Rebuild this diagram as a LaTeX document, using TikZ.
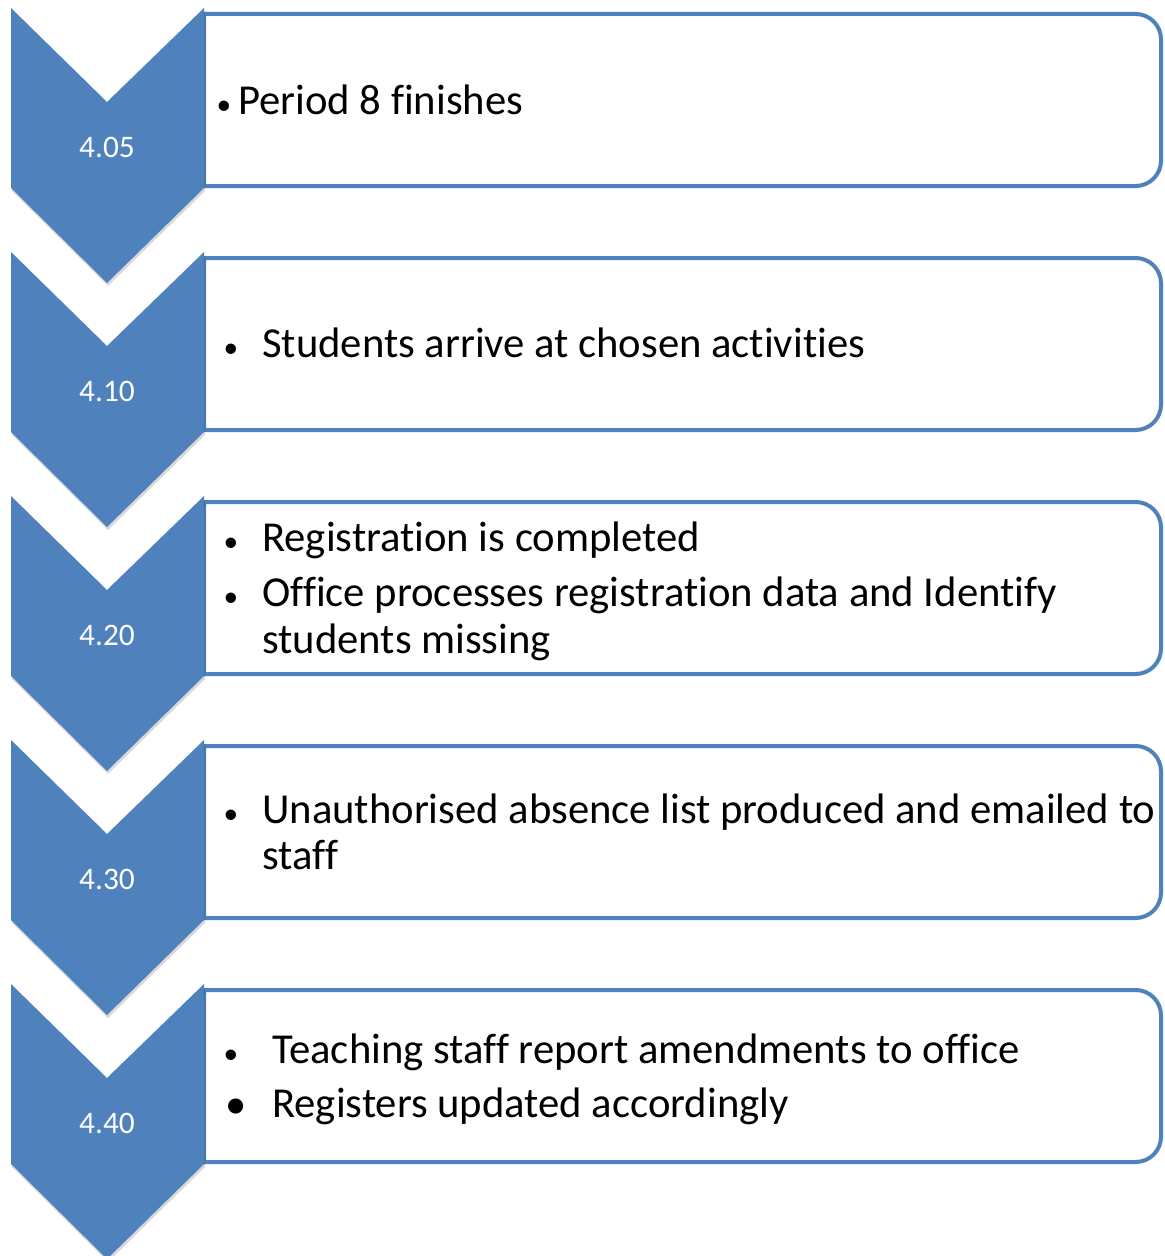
\documentclass[tikz,border=0pt]{standalone}
\usepackage{fontspec}
\setmainfont{Carlito}[Ligatures=NoCommon]
\definecolor{accent}{HTML}{4F81BD}
\begin{document}
\begin{tikzpicture}[x=0.75pt,y=-0.75pt,
  chev/.style={fill=accent,draw=none},
  chevshadow/.style={fill=black,opacity=0.15,draw=none},
  stepbox/.style={draw=accent,line width=3pt,fill=white},
  timelabel/.style={text=white,font=\fontsize{23.5}{28}\selectfont},
  itemtext/.style={anchor=base west,inner sep=0pt,font=\fontsize{32}{38}\selectfont},
  bul/.style={anchor=base,inner sep=0pt,font=\fontsize{22}{26}\selectfont}]
\useasboundingbox (0,0) rectangle (1164,1256);
% boxes
\foreach \i in {0,...,4}{
  \pgfmathsetmacro{\t}{14+244*\i}
  \pgfmathsetmacro{\b}{186+244*\i}
  \draw[stepbox] (204,\b) -- (204,\t) [rounded corners=19pt] -- (1161,\t) -- (1161,\b) [sharp corners] -- cycle;
}
% chevrons
\foreach \i/\lab in {0/4.05,1/4.10,2/4.20,3/4.30,4/4.40}{
  \pgfmathsetmacro{\t}{8+244*\i}
  \fill[chevshadow] (12,\t+3) -- (108,\t+97) -- (205,\t+3) -- (205,\t+183) -- (108,\t+278) -- (12,\t+183) -- cycle;
  \fill[chev] (11,\t) -- (107,\t+94) -- (204,\t) -- (204,\t+180) -- (107,\t+275) -- (11,\t+180) -- cycle;
  \node[timelabel] (lab\i) at (107,\t+139) {\lab};
}
% texts
\node[bul] (b1) at (224,114) {\textbullet};
\node[itemtext] (t1) at (238,114) {Period 8 finishes};
\node[bul] (b2) at (231,357) {\textbullet};
\node[itemtext] (t2) at (262,357) {Students arrive at chosen activities};
\node[bul] (b3a) at (231,551) {\textbullet};
\node[itemtext] (t3a) at (262,551) {Registration is completed};
\node[bul] (b3b) at (231,606) {\textbullet};
\node[itemtext] (t3b) at (262,606) {Office processes registration data and Identify};
\node[itemtext] (t3c) at (262,653) {students missing};
\node[bul] (b4) at (231,823) {\textbullet};
\node[itemtext] (t4a) at (262,823) {Unauthorised absence list produced and emailed to};
\node[itemtext] (t4b) at (262,869) {staff};
\node[bul] (b5a) at (231,1063) {\textbullet};
\node[itemtext] (t5a) at (272,1063) {Teaching staff report amendments to office};
\node[bul,font=\fontsize{32}{36}\selectfont] (b5b) at (236,1118) {\textbullet};
\node[itemtext] (t5b) at (272,1117) {Registers updated accordingly};
\end{tikzpicture}
\end{document}
